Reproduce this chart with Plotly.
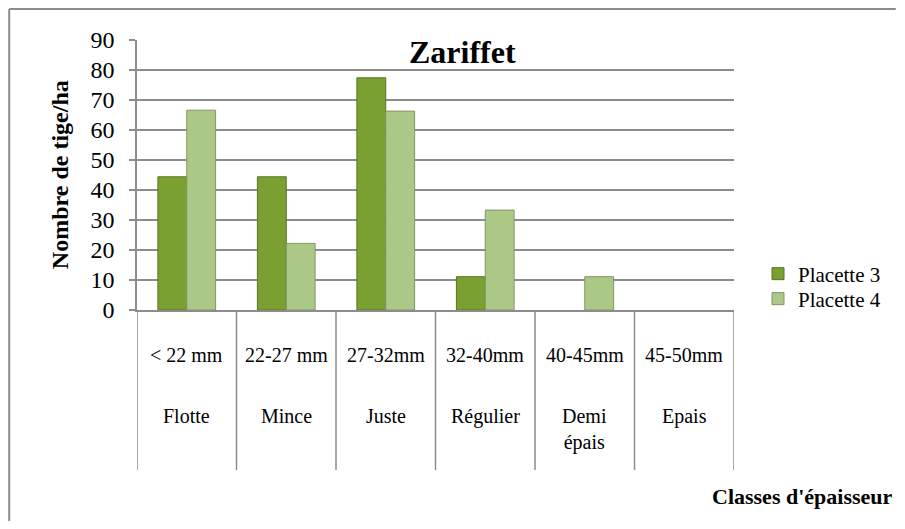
import plotly.graph_objects as go

classes = ['< 22 mm', '22-27 mm', '27-32mm', '32-40mm', '40-45mm', '45-50mm']
noms = ['Flotte', 'Mince', 'Juste', 'Régulier', 'Demi<br>épais', 'Epais']
placette3 = [44.4, 44.4, 77.4, 11.1, 0, 0]
placette4 = [66.6, 22.2, 66.3, 33.3, 11.1, 0]
y_ticks = [0, 10, 20, 30, 40, 50, 60, 70, 80, 90]

police = 'Liberation Serif'
gris = 'rgb(140, 140, 140)'

# la page html ajoute 8 px de marge autour du graphique
off = 8
W, H = 905 - 2 * off, 529 - 2 * off
# zone de tracé dans l'image de référence : x 137..735, y 40..310
x_g, x_d, y_h, y_b = 137, 735, 40, 310
ml, mr, mt, mb = x_g - off, W - (x_d - off), y_h - off, H - (y_b - off)
pw = x_d - x_g
ph = y_b - y_h


def px(x):
    return (x - x_g) / pw


def py(y):
    return (y_b - y) / ph


fig = go.Figure()
fig.add_trace(go.Bar(x=list(range(len(classes))), y=placette3, name='Placette 3',
                     legend='legend',
                     marker=dict(color='rgb(122, 160, 50)',
                                 line=dict(color='rgb(88, 116, 36)',
                                           width=[1 if v > 0 else 0 for v in placette3]))))
fig.add_trace(go.Bar(x=list(range(len(classes))), y=placette4, name='Placette 4',
                     legend='legend2',
                     marker=dict(color='rgb(172, 200, 134)',
                                 line=dict(color='rgb(128, 150, 98)',
                                           width=[1 if v > 0 else 0 for v in placette4]))))

f_norm = dict(family=police, size=20, color='black')
annots = []
shapes = []
for i, (c, n) in enumerate(zip(classes, noms)):
    annots.append(dict(x=i, y=py(355), xref='x', yref='paper', text=c, showarrow=False,
                       font=f_norm, xanchor='center', yanchor='middle'))
    annots.append(dict(x=i, y=py(403), xref='x', yref='paper', text=n, showarrow=False,
                       font=f_norm, xanchor='center', yanchor='top'))
for i in range(len(classes) + 1):
    shapes.append(dict(type='line', xref='x', yref='paper', x0=i - 0.5, x1=i - 0.5,
                       y0=0, y1=py(470), line=dict(color=gris, width=1.5)))

annots.append(dict(x=px(463), y=py(52), xref='paper', yref='paper', text='<b>Zariffet</b>',
                   showarrow=False, font=dict(family=police, size=32, color='black'),
                   xanchor='center', yanchor='middle'))
annots.append(dict(x=px(60), y=0.5, xref='paper', yref='paper', text='<b>Nombre de tige/ha</b>',
                   showarrow=False, font=dict(family=police, size=24, color='black'),
                   textangle=-90, xanchor='center', yanchor='middle'))
annots.append(dict(x=px(896), y=py(496), xref='paper', yref='paper',
                   text="<b>Classes d'épaisseur</b>", showarrow=False,
                   font=dict(family=police, size=22, color='black'),
                   xanchor='right', yanchor='middle'))

# cadre du graphique (bords haut et gauche seulement visibles)
shapes.append(dict(type='line', xref='paper', yref='paper', x0=px(9), x1=px(897),
                   y0=py(9), y1=py(9), line=dict(color=gris, width=2), layer='below'))
shapes.append(dict(type='line', xref='paper', yref='paper', x0=px(9), x1=px(9),
                   y0=py(9), y1=py(521), line=dict(color=gris, width=2), layer='below'))

leg = dict(xanchor='left', yanchor='middle', itemwidth=30, bgcolor='rgba(0,0,0,0)',
           font=dict(family=police, size=21, color='black'))

fig.update_layout(
    width=W, height=H,
    margin=dict(l=ml, r=mr, t=mt, b=mb),
    paper_bgcolor='white', plot_bgcolor='white',
    font=f_norm,
    barmode='group', bargap=0.42, bargroupgap=0,
    showlegend=True,
    legend=dict(x=px(758), y=py(274), **leg),
    legend2=dict(x=px(758), y=py(299), **leg),
    annotations=annots,
    shapes=shapes,
)
fig.update_xaxes(range=[-0.5, len(classes) - 0.5], showticklabels=False, ticks='',
                 showgrid=False, showline=True, linecolor=gris, linewidth=1.5,
                 zeroline=False)
fig.update_yaxes(range=[0, 90], tickvals=y_ticks, showgrid=True, gridcolor=gris,
                 gridwidth=1.5, showline=True, linecolor=gris, linewidth=1.5,
                 ticks='outside', ticklen=6, tickcolor=gris, tickwidth=1.5,
                 ticklabelstandoff=10,
                 tickfont=dict(family=police, size=24, color='black'), zeroline=False)

fig.write_html('out.html')
